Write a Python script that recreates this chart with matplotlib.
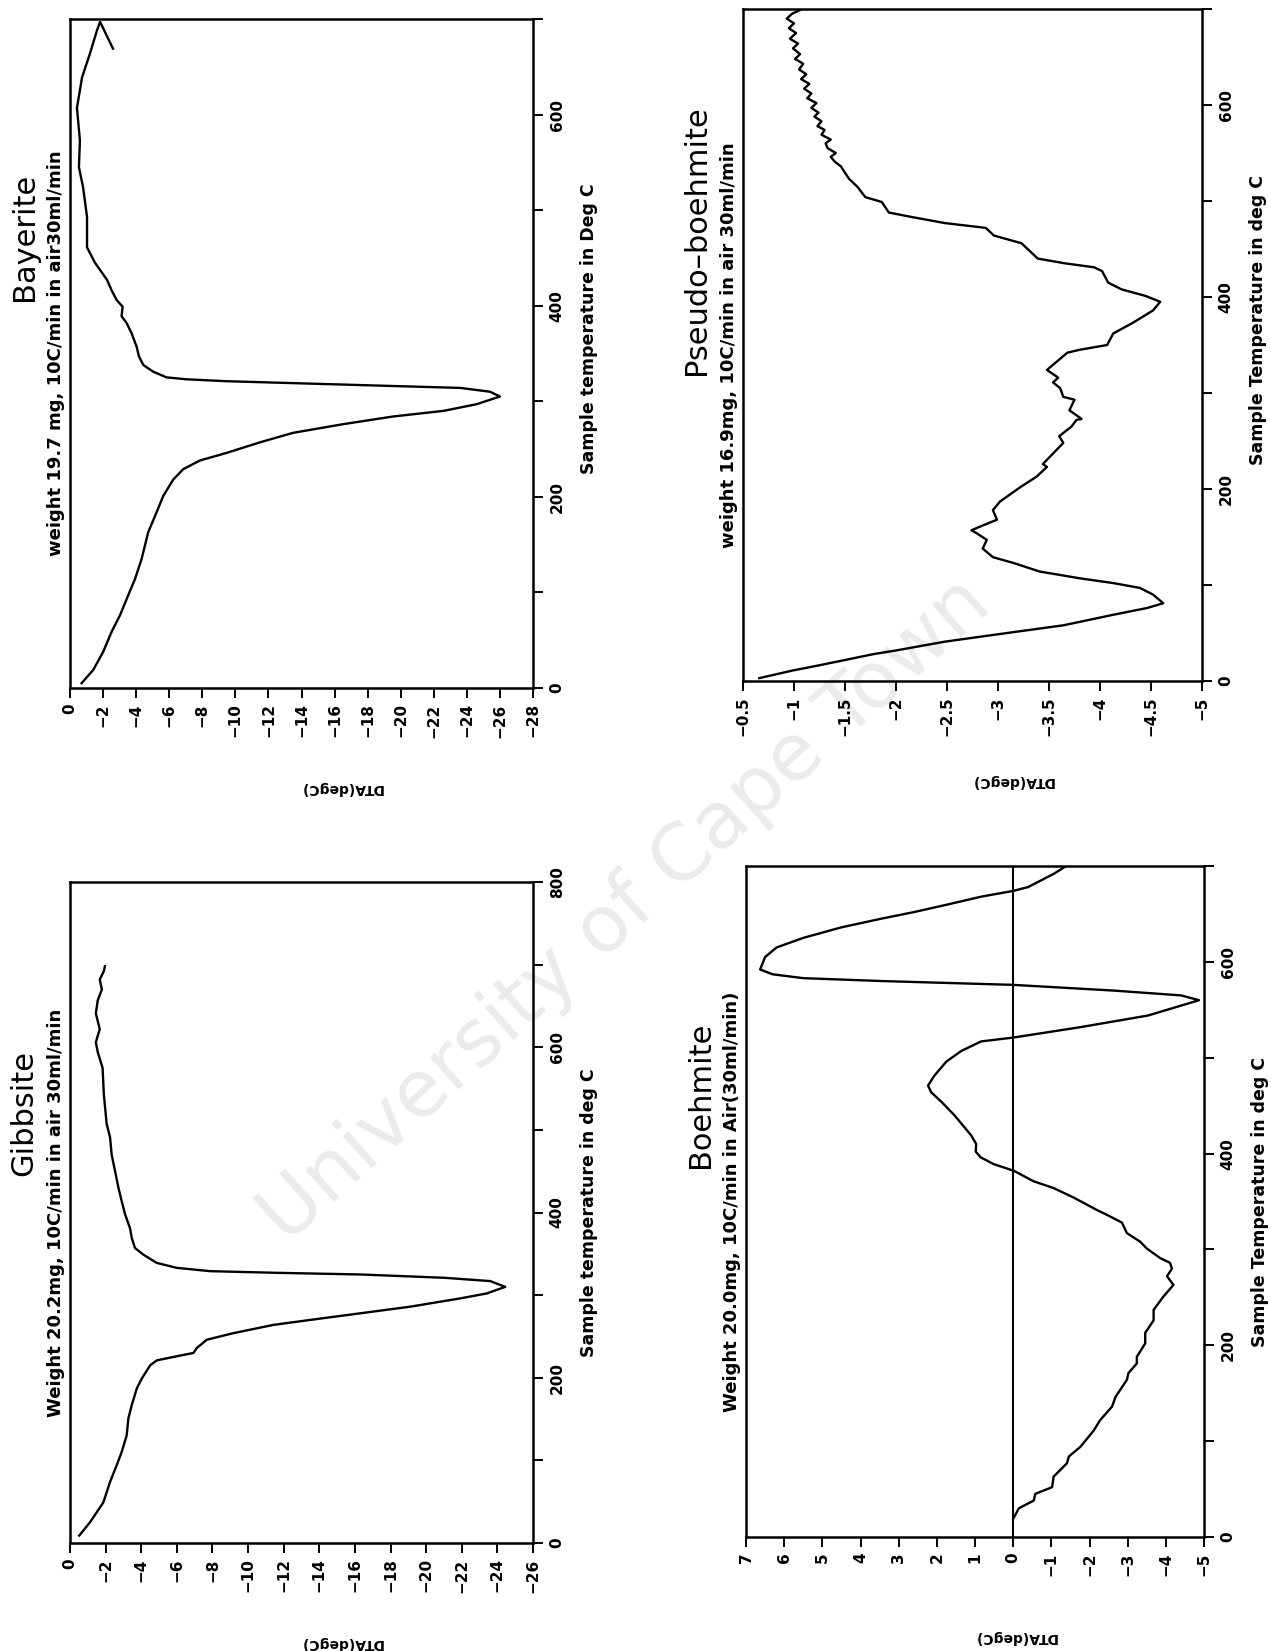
import matplotlib
matplotlib.use("Agg")
import matplotlib.pyplot as plt
from matplotlib.ticker import FixedLocator, FixedFormatter

# ---------------- data (DTA in degC, temperature in degC) ----------------
bay_dta = [-0.70, -1.41, -2.01, -2.52, -3.02, -3.52, -3.93, -4.33, -4.73, -5.24,
           -5.64, -6.24, -6.85, -7.85, -9.47, -11.48, -13.49, -16.5, -19.5, -22.6,
           -24.6, -26.0, -25.4, -23.6, -19.5, -13.5, -9.47, -7.05, -5.84, -5.03,
           -4.43, -4.17, -4.03, -3.73, -3.42, -3.12, -3.18, -2.82, -2.52, -2.24,
           -1.51, -1.03, -1.03, -0.79, -0.54, -0.60, -0.42, -0.73, -1.21, -1.63,
           -1.82, -2.60]
bay_temp = [5, 19, 38, 59, 76, 97, 114, 135, 163, 184,
            201, 218, 229, 238, 246, 257, 267, 276, 284, 290,
            297, 305, 310, 314, 316, 319, 321, 323, 325, 331,
            338, 347, 357, 371, 382, 389, 399, 406, 416, 427,
            445, 461, 493, 524, 545, 573, 607, 639, 664, 688,
            697, 669]

gib_dta = [-0.52, -1.12, -1.87, -2.25, -2.62, -2.90, -3.18, -3.28, -3.47, -3.75,
           -4.03, -4.50, -4.87, -5.99, -6.93, -7.12, -7.68, -9.18, -11.43, -13.49,
           -16.3, -19.1, -21.9, -23.4, -24.44, -23.6, -21.0, -16.3, -11.6, -7.87,
           -5.99, -4.87, -4.12, -3.65, -3.47, -3.37, -3.09, -2.90, -2.72, -2.53,
           -2.34, -2.25, -2.06, -1.90, -1.83, -1.56, -1.45, -1.67, -1.45, -1.56,
           -1.79, -1.67, -1.90, -1.96]
gib_temp = [9, 25, 49, 74, 94, 110, 130, 151, 167, 187,
            199, 215, 221, 226, 230, 236, 246, 254, 264, 270,
            278, 286, 296, 302, 310, 317, 321, 325, 327, 329,
            333, 339, 349, 357, 369, 381, 398, 414, 430, 450,
            470, 491, 507, 543, 575, 594, 606, 622, 641, 657,
            670, 682, 692, 698]

pse_dta = [-0.66, -0.99, -1.23, -1.46, -1.78, -2.01, -2.48, -3.09, -3.64, -4.13,
           -4.46, -4.62, -4.52, -4.39, -4.13, -3.80, -3.41, -3.15, -2.95, -2.85,
           -2.89, -2.79, -2.74, -2.85, -2.99, -2.95, -3.02, -3.22, -3.38, -3.48,
           -3.44, -3.54, -3.64, -3.60, -3.72, -3.77, -3.82, -3.70, -3.75, -3.64,
           -3.61, -3.54, -3.59, -3.48, -3.68, -3.80, -4.07, -4.13, -4.32, -4.52,
           -4.59, -4.45, -4.21, -4.08, -4.02, -3.94, -3.66, -3.39, -3.33, -3.23,
           -2.96, -2.88, -2.48, -2.17, -1.93, -1.86, -1.70, -1.62, -1.54, -1.46,
           -1.40, -1.36, -1.41, -1.33, -1.31, -1.36, -1.27, -1.30, -1.23, -1.27,
           -1.20, -1.24, -1.17, -1.22, -1.13, -1.17, -1.10, -1.15, -1.07, -1.12,
           -1.05, -1.09, -1.01, -1.06, -0.99, -1.04, -0.96, -1.02, -0.95, -1.00,
           -0.93, -0.98, -1.06]
pse_temp = [3, 11, 16, 21, 28, 32, 41, 50, 58, 69,
            76, 81, 90, 97, 102, 107, 114, 123, 129, 138,
            147, 154, 157, 162, 168, 178, 187, 202, 213, 223,
            226, 237, 248, 255, 265, 272, 273, 282, 293, 296,
            305, 311, 316, 324, 342, 345, 350, 362, 373, 386,
            395, 401, 408, 415, 427, 431, 435, 440, 446, 456,
            464, 472, 477, 483, 488, 499, 504, 515, 523, 536,
            541, 546, 550, 555, 560, 564, 569, 574, 578, 583,
            588, 592, 597, 602, 607, 612, 617, 622, 627, 632,
            637, 643, 648, 653, 659, 664, 669, 675, 680, 685,
            690, 695, 699]

boe_dta = [0.0, -0.15, -0.54, -0.58, -1.02, -1.06, -1.41, -1.46, -1.76, -2.11,
           -2.28, -2.59, -2.68, -2.98, -3.02, -3.24, -3.24, -3.46, -3.46, -3.68,
           -3.68, -3.94, -4.20, -4.03, -4.16, -4.11, -3.85, -3.50, -3.33, -2.98,
           -2.85, -2.46, -2.20, -1.59, -1.06, -0.54, -0.02, 0.51, 0.85, 0.98,
           0.97, 1.10, 1.54, 1.88, 2.15, 2.23, 2.07, 1.75, 1.36, 0.84,
           0.0, -1.78, -3.53, -4.87, -4.40, -2.65, 0.0, 3.46, 5.5, 6.3,
           6.63, 6.5, 6.2, 5.5, 4.5, 3.46, 2.59, 1.70, 0.84, 0.0,
           -0.39, -1.07, -1.39]
boe_temp = [19, 30, 38, 45, 52, 63, 77, 84, 94, 111,
            122, 136, 146, 164, 171, 181, 188, 202, 213, 226,
            237, 251, 263, 272, 280, 286, 291, 301, 308, 317,
            328, 336, 341, 354, 364, 371, 382, 389, 396, 402,
            410, 419, 440, 454, 464, 471, 481, 496, 507, 517,
            521, 532, 544, 560, 565, 570, 576, 580, 583, 587,
            592, 605, 615, 625, 636, 645, 652, 660, 668, 674,
            678, 692, 700]

bay_dta_ticks = [0, -2, -4, -6, -8, -10, -12, -14, -16, -18, -20, -22, -24, -26, -28]
gib_dta_ticks = [0, -2, -4, -6, -8, -10, -12, -14, -16, -18, -20, -22, -24, -26]
pse_dta_ticks = [-0.5, -1, -1.5, -2, -2.5, -3, -3.5, -4, -4.5, -5]
boe_dta_ticks = [7, 6, 5, 4, 3, 2, 1, 0, -1, -2, -3, -4, -5]
temp_ticks_700 = [0, 100, 200, 300, 400, 500, 600, 700]
temp_ticks_800 = [0, 100, 200, 300, 400, 500, 600, 700, 800]

titles = ["Bayerite", "Pseudo–boehmite", "Gibbsite", "Boehmite"]
subtitles = ["weight 19.7 mg, 10C/min in air30ml/min",
             "weight 16.9mg, 10C/min in air 30ml/min",
             "Weight 20.2mg, 10C/min in air 30ml/min",
             "Weight 20.0mg, 10C/min in Air(30ml/min)"]
temp_labels = ["Sample temperature in Deg C", "Sample Temperature in deg C",
               "Sample temperature in deg C", "Sample Temperature in deg C"]
dta_label = "DTA(degC)"
watermark = "University of Cape Town"

# ---------------- figure ----------------
W, H = 1271, 1651
fig = plt.figure(figsize=(W / 100, H / 100), dpi=100)
fig.patch.set_facecolor("white")


def fx(x):
    return x / W


def fy(y):
    return 1 - y / H


def fmt(v):
    s = f"{v:g}"
    return s.replace("-", "\u2212")


def panel(box, dta, temp, dta_ticks, xlim, tticks, ylim, title, sub, tlabel,
          zero_line=False, tlabel_shift=0, title_shift=-110):
    L, T, R, B = box
    ax = fig.add_axes([fx(L), fy(B), (R - L) / W, (B - T) / H])
    ax.set_facecolor("none")
    ax.plot(dta, temp, color="black", lw=1.7, solid_joinstyle="round")
    if zero_line:
        ax.axvline(0, color="black", lw=1.5)
    ax.set_xlim(*xlim)
    ax.set_ylim(*ylim)
    for sp in ax.spines.values():
        sp.set_linewidth(1.8)
    ax.xaxis.set_major_locator(FixedLocator(dta_ticks))
    ax.xaxis.set_major_formatter(FixedFormatter([fmt(v) for v in dta_ticks]))
    ax.yaxis.set_major_locator(FixedLocator(tticks))
    ax.yaxis.set_major_formatter(FixedFormatter([str(t) if t % 200 == 0 else "" for t in tticks]))
    ax.tick_params(axis="x", direction="out", length=7, width=1.4, labelsize=11,
                   labelrotation=90, pad=4, top=False)
    ax.tick_params(axis="y", direction="out", length=7, width=1.4, labelsize=11,
                   labelrotation=90, left=False, right=True, labelleft=False,
                   labelright=True, pad=5)
    for lab in ax.get_xticklabels() + ax.get_yticklabels():
        lab.set_fontweight("bold")
    for lab in ax.get_yticklabels():
        lab.set_va("center")
    cy = (T + B) / 2
    cx = (L + R) / 2
    fig.text(fx(L - 46), fy(cy + title_shift), title, rotation=90, ha="center", va="center",
             fontsize=22, family="DejaVu Sans", fontweight="normal", color="black")
    fig.text(fx(L - 14), fy(cy), sub, rotation=90, ha="center", va="center",
             fontsize=13, fontweight="bold")
    fig.text(fx(R + 56), fy(cy + tlabel_shift), tlabel, rotation=90, ha="center", va="center",
             fontsize=12.5, fontweight="bold")
    fig.text(fx(cx + 40), fy(B + 100), dta_label, rotation=180, ha="center", va="center",
             fontsize=10, fontweight="bold")
    return ax


fig.text(fx(625), fy(910), watermark, rotation=42, ha="center", va="center",
         fontsize=57, color="#ebebeb", family="DejaVu Sans", zorder=-5)

panel((70, 19, 533, 688), bay_dta, bay_temp, bay_dta_ticks, (0, -28),
      temp_ticks_700, (0, 700), titles[0], subtitles[0], temp_labels[0],
      tlabel_shift=-25, title_shift=-117)
panel((743, 9, 1202, 681), pse_dta, pse_temp, pse_dta_ticks, (-0.5, -5),
      temp_ticks_700, (0, 700), titles[1], subtitles[1], temp_labels[1],
      tlabel_shift=-25, title_shift=-105)
panel((70, 882, 533, 1543), gib_dta, gib_temp, gib_dta_ticks, (0, -26),
      temp_ticks_800, (0, 800), titles[2], subtitles[2], temp_labels[2],
      title_shift=-100)
panel((746, 866, 1204, 1537), boe_dta, boe_temp, boe_dta_ticks, (7, -5),
      temp_ticks_700, (0, 700), titles[3], subtitles[3], temp_labels[3], zero_line=True,
      title_shift=-107)

fig.savefig("out.png", dpi=100, facecolor="white")
